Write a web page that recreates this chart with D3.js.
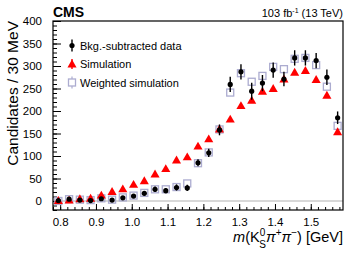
<!DOCTYPE html>
<html lang="en">
<head>
<meta charset="UTF-8">
<title>K0S pi pi mass</title>
<script src="https://cdn.jsdelivr.net/npm/d3@7"></script>
<style>
  body { margin: 0; background: #fff; overflow: hidden; }
  text { font-family: "Liberation Sans", Arial, Helvetica, sans-serif; fill: #000; }
</style>
</head>
<body>
<svg id="chart" width="357" height="257"></svg>
<script>
    // bin centres of the 30 MeV bins, GeV
    const binCenters = [0.795, 0.825, 0.855, 0.885, 0.915, 0.945, 0.975, 1.005, 1.035, 1.065,
        1.095, 1.125, 1.155, 1.185, 1.215, 1.245, 1.275, 1.305, 1.335, 1.365,
        1.395, 1.425, 1.455, 1.485, 1.515, 1.545, 1.575];
    const dataValues = [1, 4, 2, 1, 5, 2, 7, 11, 17, 26, 23, 30, 29, 85, 107, 158, 259, 287,
        244, 262, 291, 271, 318, 318, 312, 275, 185];
    const dataErrors = [2, 2, 2, 2, 3, 3, 3, 4, 5, 6, 6, 7, 7, 8, 9, 12, 17, 17,
        19, 18, 17, 16, 17, 17, 17, 17, 14];
    const simValues = [1, 2, 5, 6, 13, 21, 27, 37, 45, 60, 72, 91, 98, 122, 138, 160, 182, 212,
        224, 244, 250, 271, 286, 290, 270, 235, 154];
    const weightedValues = [0, 4, 3, 2, 6, 3, 8, 12, 18, 26, 26, 31, 39, 84, 108, 159, 241, 284,
        265, 278, 298, 293, 316, 318, 302, 254, 167];
    const xTicks = [0.8, 0.9, 1.0, 1.1, 1.2, 1.3, 1.4, 1.5];
    const yTicks = [0, 50, 100, 150, 200, 250, 300, 350, 400];
    const legendItems = ["Bkg.-subtracted data", "Simulation", "Weighted simulation"];

    const svg = d3.select("#chart");
    const pl = 53, pr = 343, pt = 21, pb = 210;

    const x = d3.scaleLinear().domain([0.78, 1.59]).range([pl, pr]);
    const y = d3.scaleLinear().domain([-20, 400]).range([pb, pt]);

    const sqColor = "#acacd0";

    // zero line
    svg.append("line")
        .attr("x1", pl).attr("x2", pr)
        .attr("y1", y(0)).attr("y2", y(0))
        .attr("stroke", "#d8d8d8").attr("stroke-width", 2);

    // axes: ticks inside, labels outside
    const xAxis = d3.axisBottom(x).tickValues(xTicks).tickFormat(d3.format(".1f"))
        .tickSize(-6).tickPadding(8);
    const xMinor = d3.axisBottom(x).tickValues(d3.range(0.78, 1.5901, 0.02)).tickFormat("").tickSize(-3);
    const yAxis = d3.axisLeft(y).tickValues(yTicks).tickSize(-8).tickPadding(11);
    const yMinor = d3.axisLeft(y).tickValues(d3.range(-20, 401, 10)).tickFormat("").tickSize(-4);

    function styleAxis(g) {
        g.select(".domain").remove();
        g.selectAll("line").attr("stroke", "#000").attr("stroke-width", 1);
        g.selectAll("text").attr("font-size", 11.5).attr("font-family", "Liberation Sans, Arial, sans-serif");
    }
    svg.append("g").attr("transform", `translate(0,${pb})`).call(xMinor).call(styleAxis);
    svg.append("g").attr("transform", `translate(0,${pb})`).call(xAxis).call(styleAxis);
    svg.append("g").attr("transform", `translate(${pl},0)`).call(yMinor).call(styleAxis);
    svg.append("g").attr("transform", `translate(${pl},0)`).call(yAxis).call(styleAxis);

    // frame
    svg.append("rect")
        .attr("x", pl).attr("y", pt)
        .attr("width", pr - pl).attr("height", pb - pt)
        .attr("fill", "none").attr("stroke", "#000").attr("stroke-width", 1.2);

    const tri = d3.symbol().type(d3.symbolTriangle).size(36);

    // weighted simulation, open squares
    svg.append("g").selectAll("rect")
        .data(binCenters)
        .join("rect")
        .attr("x", (d) => x(d) - 3.5)
        .attr("y", (d, i) => y(weightedValues[i]) - 3.5)
        .attr("width", 7).attr("height", 7)
        .attr("fill", "none").attr("stroke", sqColor).attr("stroke-width", 1.3);

    // simulation, red triangles
    svg.append("g").selectAll("path")
        .data(binCenters)
        .join("path")
        .attr("d", tri)
        .attr("transform", (d, i) => `translate(${x(d)},${y(simValues[i]) + 0.8})`)
        .attr("fill", "#ff0000");

    // data with error bars
    const dg = svg.append("g");
    dg.selectAll("line")
        .data(binCenters)
        .join("line")
        .attr("x1", (d) => x(d)).attr("x2", (d) => x(d))
        .attr("y1", (d, i) => y(dataValues[i] - dataErrors[i]))
        .attr("y2", (d, i) => y(dataValues[i] + dataErrors[i]))
        .attr("stroke", "#000").attr("stroke-width", 1.4);
    dg.selectAll("circle")
        .data(binCenters)
        .join("circle")
        .attr("cx", (d) => x(d))
        .attr("cy", (d, i) => y(dataValues[i]))
        .attr("r", 2.6)
        .attr("fill", "#000");

    // legend
    const lg = svg.append("g");
    legendItems.forEach(function (name, i) {
        const cy = 45.5 + i * 18.5;
        const mx = 72;
        if (i === 0) {
            lg.append("line").attr("x1", mx).attr("x2", mx).attr("y1", cy - 6).attr("y2", cy + 6)
                .attr("stroke", "#000").attr("stroke-width", 1.4);
            lg.append("circle").attr("cx", mx).attr("cy", cy).attr("r", 2.6).attr("fill", "#000");
        } else if (i === 1) {
            lg.append("line").attr("x1", mx).attr("x2", mx).attr("y1", cy - 5).attr("y2", cy + 5)
                .attr("stroke", "#ff0000").attr("stroke-width", 1.4);
            lg.append("path").attr("d", tri).attr("transform", `translate(${mx},${cy + 0.8})`).attr("fill", "#ff0000");
        } else {
            lg.append("line").attr("x1", mx).attr("x2", mx).attr("y1", cy - 6).attr("y2", cy + 6)
                .attr("stroke", sqColor).attr("stroke-width", 1.2);
            lg.append("rect").attr("x", mx - 3.5).attr("y", cy - 3.5).attr("width", 7).attr("height", 7)
                .attr("fill", "#fff").attr("stroke", sqColor).attr("stroke-width", 1.3);
        }
        lg.append("text").attr("x", 80).attr("y", cy + 4).attr("font-size", 11).text(name);
    });

    // labels
    svg.append("text").attr("x", pl).attr("y", 17)
        .attr("font-size", 14).attr("font-weight", "bold").text("CMS");

    const lumi = svg.append("text").attr("x", pr).attr("y", 16.5)
        .attr("text-anchor", "end").attr("font-size", 11);
    lumi.append("tspan").text("103 fb");
    lumi.append("tspan").attr("font-size", 7).attr("dy", -4).text("-1");
    lumi.append("tspan").attr("dy", 4).text(" (13 TeV)");

    svg.append("text")
        .attr("transform", `translate(18,${pt}) rotate(-90)`)
        .attr("text-anchor", "end").attr("font-size", 15.5)
        .text("Candidates / 30 MeV");

    const xl = svg.append("text").attr("x", pr).attr("y", 242)
        .attr("text-anchor", "end").attr("font-size", 14.5);
    xl.append("tspan").attr("font-style", "italic").text("m");
    xl.append("tspan").text("(K");
    xl.append("tspan").attr("font-size", 10).attr("dy", -6).text("0");
    xl.append("tspan").attr("font-size", 10).attr("dx", -6).attr("dy", 12).text("S");
    xl.append("tspan").attr("font-style", "italic").attr("dy", -6).text("π");
    xl.append("tspan").attr("font-size", 10).attr("dy", -6).text("+");
    xl.append("tspan").attr("font-style", "italic").attr("dy", 6).text("π");
    xl.append("tspan").attr("font-size", 10).attr("dy", -6).text("−");
    xl.append("tspan").attr("dy", 6).text(") [GeV]");
</script>
</body>
</html>
